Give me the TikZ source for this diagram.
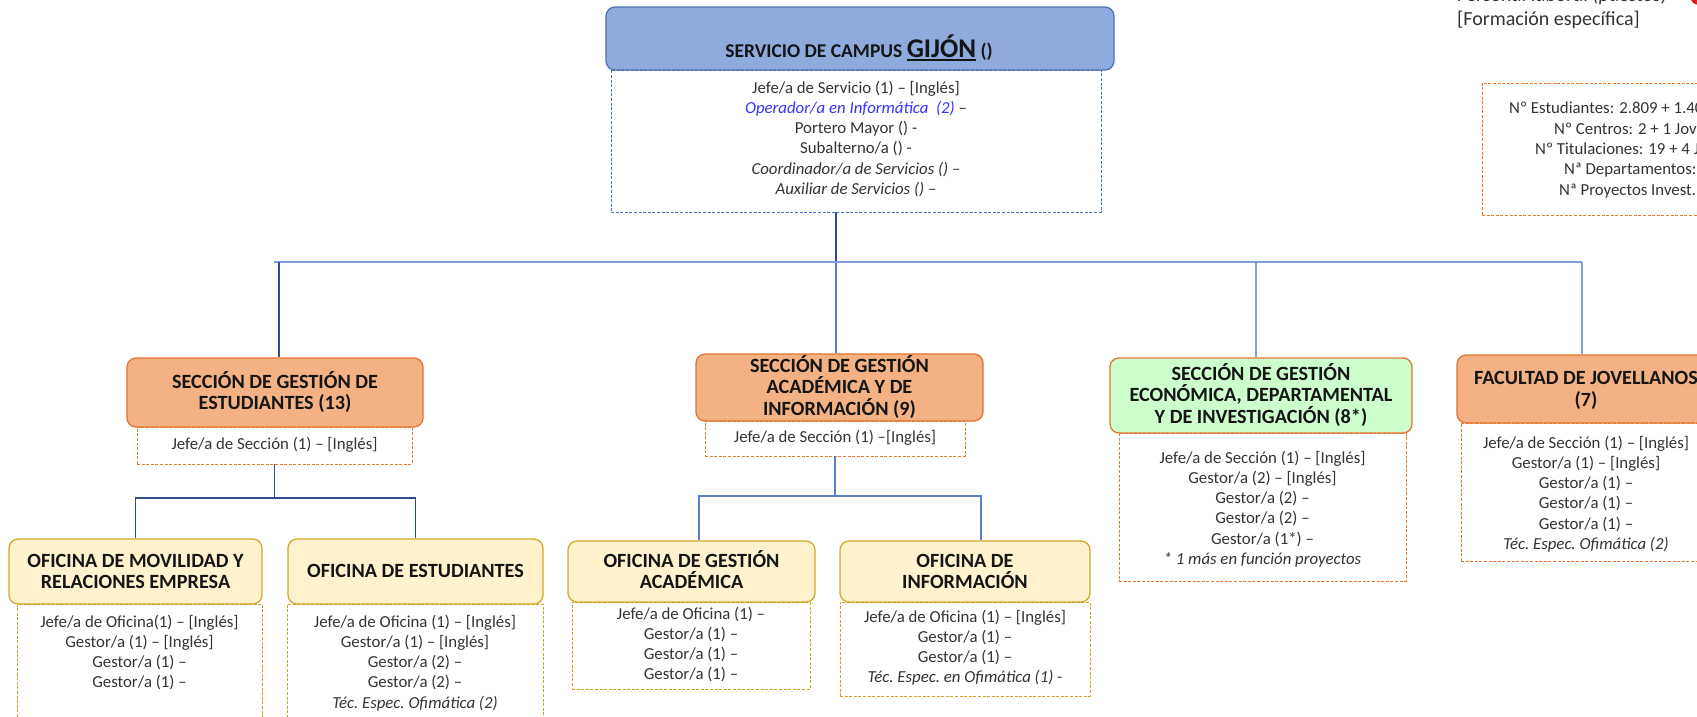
\documentclass[tikz,border=0pt]{standalone}
\usepackage{fontspec}
\setmainfont{Carlito}

\definecolor{topfill}{HTML}{8FAADC}
\definecolor{topdraw}{HTML}{4F72B0}
\definecolor{topdash}{HTML}{4472C4}
\definecolor{orgfill}{HTML}{F4B183}
\definecolor{orgdraw}{HTML}{E2752F}
\definecolor{orgdash}{HTML}{E87A33}
\definecolor{grnfill}{HTML}{CCFFCC}
\definecolor{yelfill}{HTML}{FFF2CC}
\definecolor{yeldraw}{HTML}{D4A82A}
\definecolor{yeldash}{HTML}{D0A020}
\definecolor{navyc}{HTML}{2E4B93}
\definecolor{midc}{HTML}{5A7EC6}
\definecolor{lbluec}{HTML}{7F9FD6}
\definecolor{txtc}{HTML}{333333}
\definecolor{titc}{HTML}{151515}
\definecolor{opblue}{HTML}{3333FF}
\definecolor{legred}{HTML}{E02020}

% struts that fix the first baseline / last depth of a text block
\newcommand\upstr{\rule{0pt}{17pt}}
\newcommand\dnstr{\rule[-4.4pt]{0pt}{4.4pt}}
\newcommand\lnst{\rule{0pt}{13pt}}
% thick underline for the campus name
\newcommand\thickul[1]{\setbox0\hbox{#1}\rlap{\rule[-4pt]{\wd0}{1.8pt}}\box0}

\begin{document}
\begin{tikzpicture}[x=1pt,y=-1pt,
  hdr/.style={rounded corners=9pt, line width=1.3pt, inner sep=0pt, align=center,
    font=\bfseries\fontsize{20.2}{21.5}\selectfont, text=titc},
  bluehdr/.style={hdr, draw=topdraw, fill=topfill},
  orghdr/.style={hdr, draw=orgdraw, fill=orgfill},
  grnhdr/.style={hdr, draw=orgdraw, fill=grnfill},
  yelhdr/.style={hdr, draw=yeldraw, fill=yelfill},
  dbox/.style={draw=#1, dash pattern=on 3pt off 1.6pt, line width=0.9pt, inner sep=0pt},
  lines/.style={anchor=north, inner sep=0pt, align=center,
    font=\fontsize{16.8}{20.2}\selectfont, text=txtc},
  info/.style={anchor=base west, inner sep=0pt, font=\fontsize{16.8}{20.2}\selectfont, text=txtc},
  navyline/.style={draw=navyc, line width=1.6pt},
  midline/.style={draw=midc, line width=1.6pt},
  blueline/.style={draw=lbluec, line width=1.6pt},
]
\useasboundingbox (0,0) rectangle (1697,716);
\clip (0,0) rectangle (1697,716);

% ---------- campus service ----------
\node[bluehdr, minimum width=508pt, minimum height=63pt] (toph) at (860,38.5) {};
\node[anchor=base, inner sep=0pt, font=\bfseries\fontsize{19.5}{22}\selectfont, text=titc]
  (toptitle) at (859,57) {SERVICIO DE CAMPUS {\fontsize{27}{30}\selectfont\thickul{GIJÓN}} ()};
\node[dbox=topdash, minimum width=490pt, minimum height=142pt] (topb) at (856,141) {};
\node[lines] (topt) at (856,80) {\lnst Jefe/a de Servicio (1) – [Inglés]\\
  {\color{opblue}\itshape Operador/a en Informática\ \ (2)} –\\
  Portero Mayor () -\\
  Subalterno/a () -\\
  {\itshape Coordinador/a de Servicios () –}\\
  {\itshape Auxiliar de Servicios () –}};

% ---------- legend and figures ----------
\node[info, font=\itshape\fontsize{20}{24}\selectfont] (lg1) at (1457,1.5) {Personal laboral (puestos)};
\node[info, font=\fontsize{20}{24}\selectfont] (lg2) at (1457,25) {[Formación específica]};
\node[circle, fill=legred, minimum size=18pt, inner sep=0pt] (lgdot) at (1699,-4) {};

\node[dbox=orgdash, minimum width=240pt, minimum height=132pt] (infob) at (1602,149) {};
\node[info] (i1) at (1509,113) {Nº Estudiantes: 2.809 + 1.40};
\node[info] (i2) at (1554,134) {Nº Centros: 2 + 1 Jove};
\node[info] (i3) at (1535,154) {Nº Titulaciones: 19 + 4 J};
\node[info] (i4) at (1564,174) {Nª Departamentos:};
\node[info] (i5) at (1559,195) {Nª Proyectos Invest.:};

% ---------- sections ----------
\node[orghdr, minimum width=296pt, minimum height=69pt] (s1h) at (275,392.5)
  {\upstr SECCIÓN DE GESTIÓN DE\\ESTUDIANTES (13)\dnstr};
\node[dbox=orgdash, minimum width=275pt, minimum height=37pt] (s1b) at (274.5,445.5) {};
\node[lines] (s1t) at (274.5,436) {\lnst Jefe/a de Sección (1) – [Inglés]};

\node[orghdr, minimum width=287pt, minimum height=67pt] (s2h) at (839.5,387.5)
  {\upstr SECCIÓN DE GESTIÓN\\ACADÉMICA Y DE\\INFORMACIÓN (9)\dnstr};
\node[dbox=orgdash, minimum width=260pt, minimum height=35pt] (s2b) at (835,438.5) {};
\node[lines] (s2t) at (835,429) {\lnst Jefe/a de Sección (1) –[Inglés]};

\node[grnhdr, minimum width=302pt, minimum height=75pt] (s3h) at (1261,395.5)
  {\upstr SECCIÓN DE GESTIÓN\\ECONÓMICA, DEPARTAMENTAL\\Y DE INVESTIGACIÓN (8*)\dnstr};
\node[dbox=orgdash, minimum width=287pt, minimum height=148pt] (s3b) at (1262.5,507) {};
\node[lines] (s3t) at (1262.5,450) {\lnst Jefe/a de Sección (1) – [Inglés]\\
  Gestor/a (2) – [Inglés]\\ Gestor/a (2) –\\ Gestor/a (2) –\\ Gestor/a (1*) –\\
  {\itshape * 1 más en función proyectos}};

\node[orghdr, minimum width=258pt, minimum height=68pt] (s4h) at (1586,389)
  {\upstr FACULTAD DE JOVELLANOS\\(7)\dnstr};
\node[dbox=orgdash, minimum width=250pt, minimum height=138pt] (s4b) at (1586,492) {};
\node[lines] (s4t) at (1586,435) {\lnst Jefe/a de Sección (1) – [Inglés]\\
  Gestor/a (1) – [Inglés]\\ Gestor/a (1) –\\ Gestor/a (1) –\\ Gestor/a (1) –\\
  {\itshape Téc.\ Espec.\ Ofimática (2)}};

% ---------- offices ----------
\node[yelhdr, minimum width=253pt, minimum height=65pt] (o1h) at (135.5,571.5)
  {\upstr OFICINA DE MOVILIDAD Y\\RELACIONES EMPRESA\dnstr};
\node[dbox=yeldash, minimum width=245pt, minimum height=136pt] (o1b) at (139.5,672) {};
\node[lines] (o1t) at (139.5,614) {\lnst Jefe/a de Oficina(1) – [Inglés]\\
  Gestor/a (1) – [Inglés]\\ Gestor/a (1) –\\ Gestor/a (1) –};

\node[yelhdr, minimum width=255pt, minimum height=65pt] (o2h) at (415.5,571.5)
  {\upstr OFICINA DE ESTUDIANTES\dnstr};
\node[dbox=yeldash, minimum width=256pt, minimum height=136pt] (o2b) at (415,672) {};
\node[lines] (o2t) at (415,614) {\lnst Jefe/a de Oficina (1) – [Inglés]\\
  Gestor/a (1) – [Inglés]\\ Gestor/a (2) –\\ Gestor/a (2) –\\
  {\itshape Téc.\ Espec.\ Ofimática (2)}};

\node[yelhdr, minimum width=247pt, minimum height=61pt] (o3h) at (691.5,571.5)
  {\upstr OFICINA DE GESTIÓN\\ACADÉMICA\dnstr};
\node[dbox=yeldash, minimum width=238pt, minimum height=87pt] (o3b) at (691,645.5) {};
\node[lines] (o3t) at (691,606) {\lnst Jefe/a de Oficina (1) –\\
  Gestor/a (1) –\\ Gestor/a (1) –\\ Gestor/a (1) –};

\node[yelhdr, minimum width=250pt, minimum height=61pt] (o4h) at (965,571.5)
  {\upstr OFICINA DE\\INFORMACIÓN\dnstr};
\node[dbox=yeldash, minimum width=250pt, minimum height=94pt] (o4b) at (965,649) {};
\node[lines] (o4t) at (965,609) {\lnst Jefe/a de Oficina (1) – [Inglés]\\
  Gestor/a (1) –\\ Gestor/a (1) –\\
  {\itshape Téc.\ Espec.\ en Ofimática (1) -}};

% ---------- connectors ----------
\coordinate (j0) at (836,262);
\coordinate (busL) at (274,262);
\coordinate (d1) at (279,262);
\coordinate (d3) at (1256,262);
\coordinate (d4) at (1582,262);
\draw[navyline] (topb.south -| j0) -- (j0);
\draw[midline] (j0) -- (s2h.north -| j0);
\draw[blueline] (busL) -- (d4);
\draw[navyline] (d1) -- (d1 |- s1h.north);
\draw[blueline] (d3) -- (d3 |- s3h.north);
\draw[blueline] (d4) -- (d4 |- s4h.north);

\coordinate (j1) at (274,498);
\draw[navyline] (s1b.south) -- (s1b.south |- j1);
\draw[navyline] (o1h.north) |- (j1) -| (o2h.north);

\coordinate (j2) at (835,496);
\coordinate (k3) at (699,496);
\coordinate (k4) at (981,496);
\draw[midline] (s2b.south) -- (s2b.south |- j2);
\draw[midline] (k3 |- o3h.north) -- (k3) -- (k4) -- (k4 |- o4h.north);
\end{tikzpicture}
\end{document}
